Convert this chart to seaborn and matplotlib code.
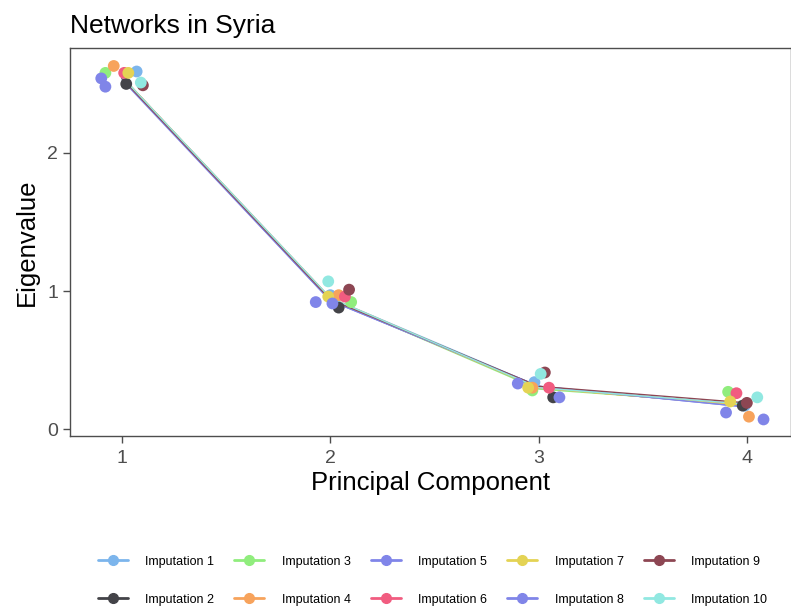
import numpy as np
import pandas as pd
import matplotlib
matplotlib.use("Agg")
import matplotlib.pyplot as plt
from matplotlib.lines import Line2D
import seaborn as sns

####Data########################################################################
imputations = [f"Imputation {i}" for i in range(1, 11)]
components = [1, 2, 3, 4]

# hc default palette
palette = ["#7cb5ec", "#434348", "#90ed7d", "#f7a35c", "#8085e9",
           "#f15c80", "#e4d354", "#8085e8", "#8d4653", "#91e8e1"]

# eigenvalues used for the connecting lines (one row per imputation)
line_eig = [
    [2.55, 0.95, 0.31, 0.17],
    [2.54, 0.94, 0.30, 0.17],
    [2.55, 0.94, 0.29, 0.18],
    [2.55, 0.95, 0.30, 0.17],
    [2.54, 0.93, 0.31, 0.16],
    [2.55, 0.94, 0.30, 0.18],
    [2.55, 0.94, 0.30, 0.17],
    [2.53, 0.93, 0.31, 0.16],
    [2.54, 0.94, 0.31, 0.19],
    [2.55, 0.95, 0.30, 0.18],
]

# jittered point positions and eigenvalues
pt_x = [
    [1.07, 2.00, 2.98, 3.99],
    [1.02, 2.04, 3.07, 3.98],
    [0.92, 2.10, 2.97, 3.91],
    [0.96, 2.04, 2.97, 4.01],
    [0.90, 1.93, 2.90, 3.90],
    [1.01, 2.07, 3.05, 3.95],
    [1.03, 1.99, 2.95, 3.92],
    [0.92, 2.01, 3.10, 4.08],
    [1.10, 2.09, 3.03, 4.00],
    [1.09, 1.99, 3.01, 4.05],
]
pt_eig = [
    [2.59, 0.97, 0.34, 0.17],
    [2.50, 0.88, 0.23, 0.17],
    [2.58, 0.92, 0.28, 0.27],
    [2.63, 0.97, 0.30, 0.09],
    [2.54, 0.92, 0.33, 0.12],
    [2.58, 0.96, 0.30, 0.26],
    [2.58, 0.96, 0.30, 0.20],
    [2.48, 0.91, 0.23, 0.07],
    [2.49, 1.01, 0.41, 0.19],
    [2.51, 1.07, 0.40, 0.23],
]

lines_df = pd.DataFrame({
    "imp": np.repeat(imputations, len(components)),
    "pc": components * len(imputations),
    "eig": np.ravel(line_eig),
})
pts_df = pd.DataFrame({
    "imp": np.repeat(imputations, len(components)),
    "pc": np.ravel(pt_x),
    "eig": np.ravel(pt_eig),
})

####Plot#########################################################################
sns.set_style("white")
plt.rcParams["font.family"] = ["Liberation Sans", "DejaVu Sans"]

fig = plt.figure(figsize=(7.91, 6.11), dpi=100)
ax = fig.add_axes([0.0885, 0.2864, 0.911, 0.635])

sns.lineplot(data=lines_df, x="pc", y="eig", hue="imp", hue_order=imputations,
             palette=palette, linewidth=1.0, legend=False, ax=ax, zorder=2)
sns.scatterplot(data=pts_df, x="pc", y="eig", hue="imp", hue_order=imputations,
                palette=palette, s=72, edgecolor="none", legend=False, ax=ax,
                zorder=3)

ax.set_xlim(0.75, 4.21)
ax.set_ylim(-0.05, 2.76)
ax.set_xticks(components)
ax.set_yticks([0, 1, 2])
ax.tick_params(axis="both", direction="out", length=5, width=1.0,
               colors="#4d4d4d", labelsize=14, labelcolor="#4d4d4d", bottom=True, left=True)
ax.tick_params(axis="x", pad=5)
for s in ax.spines.values():
    s.set_color("#4d4d4d")
    s.set_linewidth(1.0)

ax.set_xlabel("Principal Component", fontsize=18.5, labelpad=3, color="black")
ax.set_ylabel("Eigenvalue", fontsize=18.5, labelpad=6, color="black")
ax.set_title("Networks in Syria", loc="left", fontsize=19, pad=11, color="black")

handles = [Line2D([0], [0], color=c, lw=2, marker="o", markersize=7)
           for c in palette]
fig.legend(handles, imputations, loc="lower center", bbox_to_anchor=(0.547, -0.01),
           ncol=5, frameon=False, fontsize=9, handlelength=2.4, handletextpad=1.4,
           columnspacing=1.6, labelspacing=2.1, labelcolor="black")

fig.savefig("out.png", dpi=100)
